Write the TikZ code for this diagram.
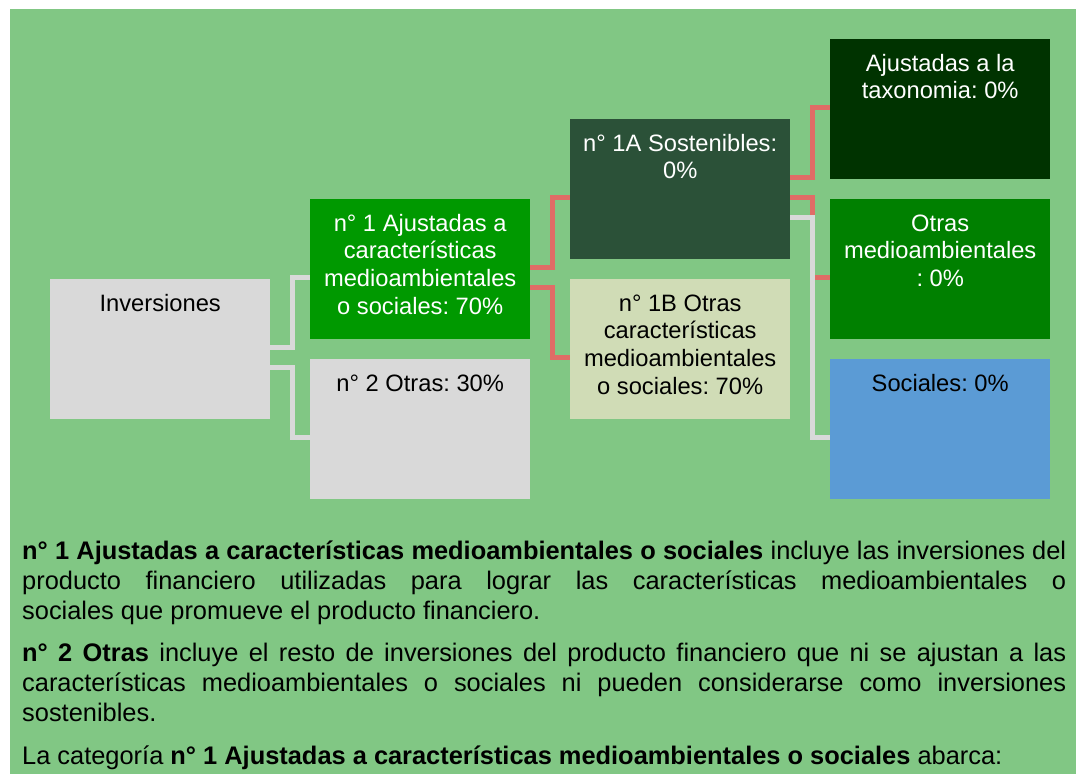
\documentclass[tikz,border=0pt]{standalone}
\usepackage{fontspec}
\setmainfont{Liberation Sans}
\frenchspacing

\definecolor{bggreen}{HTML}{81C784}
\definecolor{boxgray}{HTML}{D9D9D9}
\definecolor{grnA}{HTML}{009900}
\definecolor{grnB}{HTML}{2B5138}
\definecolor{grnC}{HTML}{003300}
\definecolor{grnD}{HTML}{008000}
\definecolor{paleB}{HTML}{D0DCB6}
\definecolor{socblue}{HTML}{5B9BD5}
\definecolor{linkred}{HTML}{E06C66}

\newcommand{\boxfont}{\fontsize{23.7}{27.7}\selectfont}
\newcommand{\parafont}{\fontsize{25.4}{30}\selectfont\hyphenpenalty=10000}
\newcommand{\boxtxt}[1]{\parbox[t][140pt][t]{220pt}{\centering\rule{0pt}{32pt}#1}}

\tikzset{
	catbox/.style={anchor=north west, inner sep=0pt, minimum width=220pt, minimum height=140pt, font=\boxfont},
	link/.style={line width=5pt, boxgray},
	redlink/.style={line width=5pt, linkred},
	para/.style={anchor=base west, inner sep=0pt, text width=1044pt, align=justify, font=\parafont}
}

\begin{document}
\begin{tikzpicture}[x=1pt,y=-1pt]
	\useasboundingbox (0,0) rectangle (1081,774);
	\fill[bggreen] (10,9) rectangle (1076,774);
	\node[catbox,fill=boxgray] (inv) at (50,279) {\boxtxt{Inversiones}};
	\node[catbox,fill=grnA,text=white] (one) at (310,199) {\boxtxt{n° 1 Ajustadas a\\características\\medioambientales\\o sociales: 70\%}};
	\node[catbox,fill=boxgray] (two) at (310,359) {\boxtxt{n° 2 Otras: 30\%}};
	\node[catbox,fill=grnB,text=white] (oneA) at (570,119) {\boxtxt{n° 1A Sostenibles:\\0\%}};
	\node[catbox,fill=paleB] (oneB) at (570,279) {\boxtxt{n° 1B Otras\\características\\medioambientales\\o sociales: 70\%}};
	\node[catbox,fill=grnC,text=white] (taxo) at (830,39) {\boxtxt{Ajustadas a la\\taxonomia: 0\%}};
	\node[catbox,fill=grnD,text=white] (medio) at (830,199) {\boxtxt{Otras\\medioambientales\\: 0\%}};
	\node[catbox,fill=socblue] (soc) at (830,359) {\boxtxt{Sociales: 0\%}};
	% elbow links
	\draw[link] ([yshift=1.5pt]inv.east) -- ++(22.5,0) |- ([yshift=-8.5pt]one.west);
	\draw[link] ([yshift=-18.5pt]inv.east) -- ++(22.5,0) |- ([yshift=-8.5pt]two.west);
	\draw[redlink] ([yshift=1.5pt]one.east) -- ++(22.5,0) |- ([yshift=-8.5pt]oneA.west);
	\draw[redlink] ([yshift=-18.5pt]one.east) -- ++(22.5,0) |- ([yshift=-8.5pt]oneB.west);
	\draw[redlink] ([yshift=11.5pt]oneA.east) -- ++(22.5,0) |- ([yshift=1.5pt]taxo.west);
	\draw[redlink] ([yshift=-8.5pt]oneA.east) -- ++(22.5,0) |- ([yshift=-8.5pt]medio.west);
	\draw[link] ([yshift=-28.5pt]oneA.east) -- ++(22.5,0) |- ([yshift=-8.5pt]soc.west);
	% text below
	\node[para] (p1) at (22,559.5) {\textbf{n° 1 Ajustadas a características medioambientales o sociales} incluye las inversiones del\linebreak producto financiero utilizadas para lograr las características medioambientales o\linebreak sociales que promueve el producto financiero.};
	\node[para] (p2) at (22,661.5) {\textbf{n° 2 Otras} incluye el resto de inversiones del producto financiero que ni se ajustan a las\linebreak características medioambientales o sociales ni pueden considerarse como inversiones\linebreak sostenibles.};
	\node[para] (p3) at (22,764.5) {La categoría \textbf{n° 1 Ajustadas a características medioambientales o sociales} abarca:};
\end{tikzpicture}
\end{document}
